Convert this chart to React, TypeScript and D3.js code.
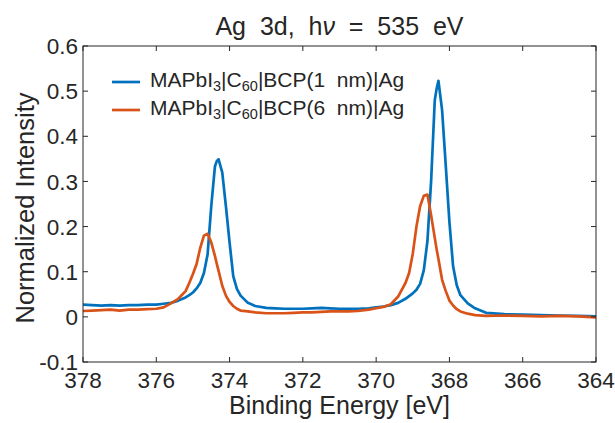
import React from "react";
import * as d3 from "d3";

const energy = [
  378, 377.75, 377.5, 377.25, 377, 376.75, 376.5, 376.25, 376, 375.8, 375.6, 375.4, 375.2, 375.1, 375.0,
  374.9, 374.8, 374.7, 374.6, 374.5, 374.4, 374.35, 374.3, 374.2, 374.1, 374.0, 373.9, 373.8, 373.7,
  373.5, 373.3, 373.0, 372.75, 372.5, 372.25, 372, 371.75, 371.5, 371.25, 371, 370.75, 370.5, 370.2,
  370.0, 369.8, 369.6, 369.4, 369.2, 369.1, 369.0, 368.9, 368.8, 368.7, 368.6, 368.5, 368.4, 368.35,
  368.3, 368.2, 368.1, 368.0, 367.9, 367.8, 367.7, 367.5, 367.3, 367.0, 366.5, 366, 365.5, 365, 364.5, 364,
];

const bcp1nm = [
  0.027, 0.026, 0.025, 0.026, 0.025, 0.026, 0.026, 0.027, 0.027, 0.029, 0.031, 0.036, 0.043, 0.048, 0.054,
  0.063, 0.075, 0.097, 0.138, 0.245, 0.333, 0.345, 0.349, 0.32, 0.245, 0.165, 0.09, 0.062, 0.047,
  0.031, 0.024, 0.020, 0.019, 0.018, 0.018, 0.018, 0.019, 0.020, 0.019, 0.018, 0.018, 0.018, 0.019,
  0.021, 0.023, 0.026, 0.031, 0.040, 0.046, 0.052, 0.060, 0.073, 0.103, 0.168, 0.30, 0.48, 0.505,
  0.523, 0.458, 0.335, 0.21, 0.112, 0.07, 0.048, 0.030, 0.019, 0.009, 0.006, 0.005, 0.004, 0.003, 0.002, 0.001,
];

const bcp6nm = [
  0.013, 0.014, 0.015, 0.016, 0.014, 0.016, 0.016, 0.017, 0.018, 0.021, 0.030, 0.040, 0.057, 0.075, 0.095,
  0.117, 0.153, 0.180, 0.184, 0.165, 0.135, 0.118, 0.102, 0.069, 0.047, 0.033, 0.024, 0.018, 0.014,
  0.012, 0.010, 0.008, 0.008, 0.008, 0.009, 0.010, 0.010, 0.011, 0.012, 0.012, 0.012, 0.013, 0.016,
  0.019, 0.022, 0.028, 0.045, 0.075, 0.097, 0.14, 0.20, 0.245, 0.268, 0.271, 0.225, 0.175, 0.15,
  0.128, 0.082, 0.057, 0.036, 0.025, 0.017, 0.012, 0.007, 0.004, 0.002, 0.003, 0.002, 0.001, 0.002, 0.001, -0.001,
];

const xTicks = [378, 376, 374, 372, 370, 368, 366, 364];
const yTicks = [-0.1, 0, 0.1, 0.2, 0.3, 0.4, 0.5, 0.6];
const yTickLabels = ["-0.1", "0", "0.1", "0.2", "0.3", "0.4", "0.5", "0.6"];

const W = 615;
const H = 423;
const L = 83;
const R = 596;
const T = 46;
const B = 362;
const INK = "#262626";
const BLUE = "#0072BD";
const ORANGE = "#D95319";
const FONT = "'Liberation Sans', Arial, Helvetica, sans-serif";

export default function App() {
  const x = d3.scaleLinear().domain([378, 364]).range([L, R]);
  const y = d3.scaleLinear().domain([-0.1, 0.6]).range([B, T]);
  const line = (vals: number[]) =>
    d3
      .line<number>()
      .x((_, i) => x(energy[i]))
      .y((v) => y(v))(vals) || "";
  const tl = 5;

  const legendRows = [
    { color: BLUE, thick: "1" },
    { color: ORANGE, thick: "6" },
  ];

  return (
    <svg
      width={W}
      height={H}
      style={{ position: "absolute", left: 0, top: 0, background: "#fff" }}
      fontFamily={FONT}
    >
      <rect x={0} y={0} width={W} height={H} fill="#fff" />
      <defs>
        <clipPath id="plot">
          <rect x={L} y={T} width={R - L} height={B - T} />
        </clipPath>
      </defs>

      <g clipPath="url(#plot)" fill="none" strokeWidth={2.7} strokeLinejoin="round">
        <path d={line(bcp1nm)} stroke={BLUE} />
        <path d={line(bcp6nm)} stroke={ORANGE} />
      </g>

      <rect x={L} y={T} width={R - L} height={B - T} fill="none" stroke={INK} strokeWidth={1} />

      {xTicks.map((t) => (
        <g key={"x" + t}>
          <line x1={x(t)} x2={x(t)} y1={B} y2={B - tl} stroke={INK} />
          <line x1={x(t)} x2={x(t)} y1={T} y2={T + tl} stroke={INK} />
          <text x={x(t)} y={388} textAnchor="middle" fontSize={22.5} fill={INK}>
            {t}
          </text>
        </g>
      ))}
      {yTicks.map((t, i) => (
        <g key={"y" + i}>
          <line x1={L} x2={L + tl} y1={y(t)} y2={y(t)} stroke={INK} />
          <line x1={R} x2={R - tl} y1={y(t)} y2={y(t)} stroke={INK} />
          <text x={78} y={y(t)} dy="0.36em" textAnchor="end" fontSize={22.5} fill={INK}>
            {yTickLabels[i]}
          </text>
        </g>
      ))}

      <text x={(L + R) / 2} y={414} textAnchor="middle" fontSize={25} fill={INK}>
        Binding Energy [eV]
      </text>
      <text
        transform={`translate(34,${(T + B) / 2 + 4}) rotate(-90)`}
        textAnchor="middle"
        fontSize={25.5}
        fill={INK}
      >
        Normalized Intensity
      </text>

      <text x={(L + R) / 2} y={35} textAnchor="middle" fontSize={25} fill={INK} style={{ whiteSpace: "pre" }}>
        {"Ag  3d,  h"}
        <tspan fontStyle="italic">ν</tspan>
        {"  =  535  eV"}
      </text>

      {legendRows.map((r, i) => {
        const cy = 82 + i * 28;
        return (
          <g key={"lg" + i}>
            <line x1={112} x2={140} y1={cy} y2={cy} stroke={r.color} strokeWidth={2.7} />
            <text x={150} y={cy + 4.5} fontSize={21} fill={INK} style={{ whiteSpace: "pre" }}>
              {"MAPbI"}
              <tspan fontSize={14.5} dy={4}>3</tspan>
              <tspan dy={-4}>{"|C"}</tspan>
              <tspan fontSize={14.5} dy={4}>60</tspan>
              <tspan dy={-4}>{"|BCP(" + r.thick + "  nm)|Ag"}</tspan>
            </text>
          </g>
        );
      })}
    </svg>
  );
}
